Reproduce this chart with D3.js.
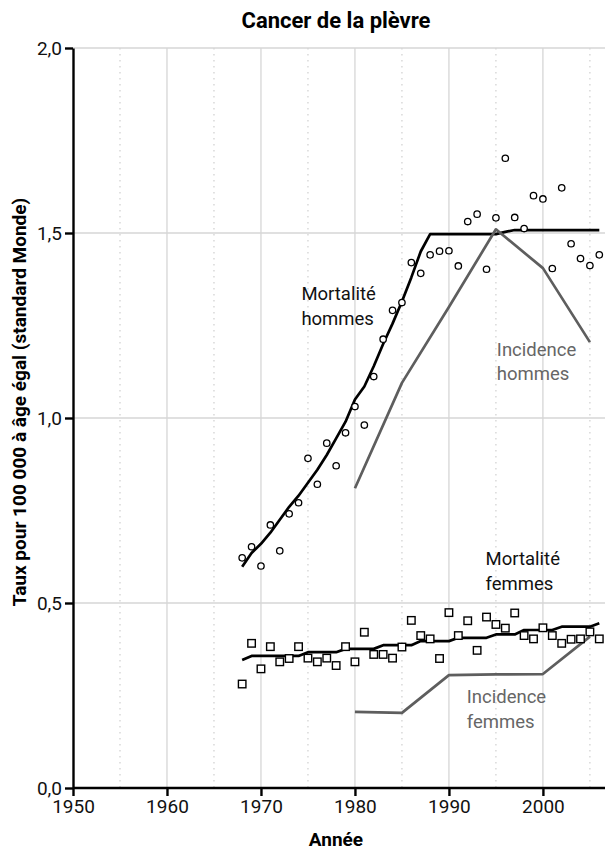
<!DOCTYPE html>
<html>
<head>
<meta charset="utf-8">
<script src="https://d3js.org/d3.v7.min.js"></script>
<style>
  body { margin: 0; background: #fff; }
  text { font-family: Roboto, "Liberation Sans", sans-serif; }
</style>
</head>
<body>
<div id="chart"></div>
<script>
// --- data ---
const years = d3.range(1968, 2007);

// mortalité hommes: observed points + smoothed line
const mortHommesObs = [0.622, 0.652, 0.600, 0.711, 0.641, 0.741, 0.771, 0.891, 0.821, 0.932,
  0.871, 0.960, 1.031, 0.981, 1.112, 1.213, 1.291, 1.312, 1.420, 1.391,
  1.441, 1.451, 1.452, 1.411, 1.531, 1.551, 1.402, 1.541, 1.702, 1.542,
  1.512, 1.601, 1.592, 1.404, 1.622, 1.471, 1.431, 1.412, 1.441];
const mortHommesFit = [0.598, 0.635, 0.660, 0.690, 0.725, 0.760, 0.790, 0.825, 0.860, 0.900,
  0.945, 0.990, 1.050, 1.085, 1.140, 1.200, 1.255, 1.315, 1.380, 1.450,
  1.497, 1.497, 1.497, 1.497, 1.497, 1.497, 1.497, 1.497, 1.503, 1.508,
  1.508, 1.508, 1.508, 1.508, 1.508, 1.508, 1.508, 1.508, 1.508];

// mortalité femmes
const mortFemmesObs = [0.281, 0.391, 0.322, 0.382, 0.341, 0.350, 0.382, 0.351, 0.341, 0.351,
  0.331, 0.382, 0.341, 0.421, 0.361, 0.361, 0.351, 0.381, 0.453, 0.412,
  0.403, 0.350, 0.474, 0.412, 0.452, 0.372, 0.462, 0.442, 0.432, 0.473,
  0.412, 0.403, 0.433, 0.412, 0.391, 0.402, 0.403, 0.422, 0.403];
const mortFemmesFit = [0.346, 0.357, 0.357, 0.357, 0.357, 0.357, 0.357, 0.367, 0.367, 0.367,
  0.367, 0.376, 0.376, 0.376, 0.376, 0.386, 0.386, 0.386, 0.386, 0.397,
  0.397, 0.397, 0.397, 0.406, 0.406, 0.406, 0.406, 0.415, 0.415, 0.415,
  0.427, 0.427, 0.427, 0.427, 0.436, 0.436, 0.436, 0.436, 0.445];

// incidence (estimations quinquennales)
const incYears = [1980, 1985, 1990, 1995, 2000, 2005];
const incHommes = [0.810, 1.095, 1.300, 1.510, 1.405, 1.205];
const incFemmes = [0.206, 0.203, 0.305, 0.307, 0.308, 0.409];

const xTicks = [1950, 1960, 1970, 1980, 1990, 2000];
const xMinor = [1955, 1965, 1975, 1985, 1995, 2005];
const yTicks = [0, 0.5, 1.0, 1.5, 2.0];

// --- layout ---
const W = 605, H = 854;
const margin = {top: 48, right: 1, bottom: 66, left: 73};
const width = W - margin.left - margin.right,
  height = H - margin.top - margin.bottom;

const svg = d3.select("#chart")
.append("svg")
  .attr("width", W)
  .attr("height", H);

const g = svg.append("g")
  .attr("transform", "translate(" + margin.left + "," + margin.top + ")");

const x = d3.scaleLinear()
  .domain([1950, 2006.5])
  .range([0, width]);

const y = d3.scaleLinear()
  .domain([0, 2])
  .range([height, 0]);

const fr = d3.formatLocale({decimal: ",", thousands: " ", grouping: [3], currency: ["", "€"]});

// grid
g.selectAll(".vgrid")
  .data(xTicks.slice(1))
  .enter().append("line")
    .attr("x1", d => x(d)).attr("x2", d => x(d))
    .attr("y1", 0).attr("y2", height)
    .attr("stroke", "#d6d6d6").attr("stroke-width", 1.3);

g.selectAll(".vminor")
  .data(xMinor)
  .enter().append("line")
    .attr("x1", d => x(d)).attr("x2", d => x(d))
    .attr("y1", 0).attr("y2", height)
    .attr("stroke", "#cfcfcf").attr("stroke-width", 1.2)
    .attr("stroke-dasharray", "1.5,4.5");

g.selectAll(".hgrid")
  .data(yTicks.slice(1))
  .enter().append("line")
    .attr("x1", 0).attr("x2", width + margin.right)
    .attr("y1", d => y(d)).attr("y2", d => y(d))
    .attr("stroke", "#d6d6d6").attr("stroke-width", 1.3);

// axes
const xAxis = g.append("g")
  .attr("transform", "translate(0," + height + ")")
  .call(d3.axisBottom(x).tickValues(xTicks).tickFormat(d3.format("d"))
    .tickSize(8).tickSizeOuter(0).tickPadding(4));

const yAxis = g.append("g")
  .call(d3.axisLeft(y).tickValues(yTicks).tickFormat(fr.format(".1f"))
    .tickSize(8).tickSizeOuter(0).tickPadding(3));

[xAxis, yAxis].forEach(a => {
  a.select(".domain").attr("stroke", "#000").attr("stroke-width", 2.4);
  a.selectAll(".tick line").attr("stroke", "#000").attr("stroke-width", 2.4);
  a.selectAll(".tick text").attr("fill", "#111").style("font-size", "19px")
    .style("font-family", "Roboto, sans-serif");
});
xAxis.select(".domain").attr("d", "M0,0H" + (width + margin.right));
yAxis.selectAll(".tick text").attr("dy", "0.36em");

// lines
const line = d3.line()
  .x(d => x(d[0]))
  .y(d => y(d[1]));

const series = [
  {yrs: years, vals: mortHommesFit, color: "#000"},
  {yrs: years, vals: mortFemmesFit, color: "#000"},
  {yrs: incYears, vals: incHommes, color: "#5e5e5e"},
  {yrs: incYears, vals: incFemmes, color: "#5e5e5e"}
];

g.selectAll(".serie")
  .data(series)
  .enter().append("path")
    .attr("d", d => line(d.yrs.map((yr, i) => [yr, d.vals[i]])))
    .attr("fill", "none")
    .attr("stroke", d => d.color)
    .attr("stroke-width", 2.7)
    .attr("stroke-linejoin", "round");

// points
g.selectAll(".rond")
  .data(years.map((yr, i) => [yr, mortHommesObs[i]]))
  .enter().append("circle")
    .attr("cx", d => x(d[0]))
    .attr("cy", d => y(d[1]))
    .attr("r", 3.2)
    .attr("fill", "#fff")
    .attr("stroke", "#000")
    .attr("stroke-width", 1.3);

const sq = 7.5;
g.selectAll(".carre")
  .data(years.map((yr, i) => [yr, mortFemmesObs[i]]))
  .enter().append("rect")
    .attr("x", d => x(d[0]) - sq / 2)
    .attr("y", d => y(d[1]) - sq / 2)
    .attr("width", sq)
    .attr("height", sq)
    .attr("fill", "#fff")
    .attr("stroke", "#000")
    .attr("stroke-width", 1.4);

// series labels
const labels = [
  {txt: ["Mortalité", "hommes"], yr: 1974.3, v: 1.318, color: "#111"},
  {txt: ["Incidence", "hommes"], yr: 1995.1, v: 1.168, color: "#666"},
  {txt: ["Mortalité", "femmes"], yr: 1993.9, v: 0.602, color: "#111"},
  {txt: ["Incidence", "femmes"], yr: 1991.9, v: 0.229, color: "#666"}
];

labels.forEach(l => {
  const t = g.append("text")
    .attr("x", x(l.yr))
    .attr("y", y(l.v))
    .attr("fill", l.color)
    .style("font-size", "18.5px");
  l.txt.forEach((s, i) => {
    t.append("tspan").attr("x", x(l.yr)).attr("dy", i ? 24.5 : 0).text(s);
  });
});

// titles
svg.append("text")
  .attr("x", 336).attr("y", 28)
  .attr("text-anchor", "middle")
  .style("font-size", "22px").style("font-weight", "bold")
  .text("Cancer de la plèvre");

svg.append("text")
  .attr("x", 336).attr("y", 846)
  .attr("text-anchor", "middle")
  .style("font-size", "19px").style("font-weight", "bold")
  .text("Année");

svg.append("text")
  .attr("transform", "translate(26,402) rotate(-90)")
  .attr("text-anchor", "middle")
  .style("font-size", "19px").style("font-weight", "bold")
  .text("Taux pour 100 000 à âge égal (standard Monde)");
</script>
</body>
</html>
